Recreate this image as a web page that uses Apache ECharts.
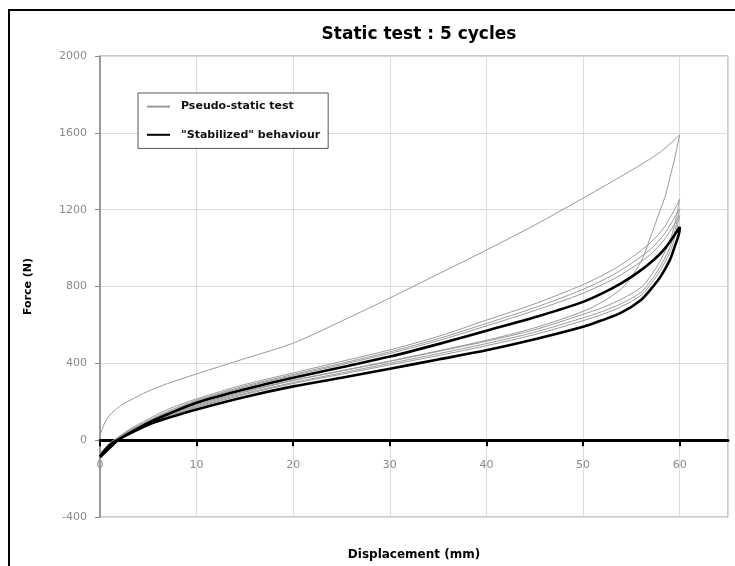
<!DOCTYPE html>
<html>
<head>
<meta charset="utf-8">
<script src="https://cdn.jsdelivr.net/npm/echarts@6/dist/echarts.min.js"></script>
<style>html,body{margin:0;padding:0;background:#fff;}#c{width:735px;height:566px;}</style>
</head>
<body>
<div id="c"></div>
<script>
// ---- data (Displacement mm, Force N) ----
const titleText = 'Static test : 5 cycles';
const seriesNames = ['Pseudo-static test', '"Stabilized" behaviour'];
const xTicks = [0, 10, 20, 30, 40, 50, 60];
const yTicks = [-400, 0, 400, 800, 1200, 1600, 2000];

const cycle1Load = [[0,25],[0.5,90],[1,130],[2,175],[3,205],[5,255],[7,295],[10,345],[15,425],[20,505],[25,620],[30,740],[35,865],[40,990],[45,1120],[50,1260],[55,1405],[58,1500],[60,1590]];
const cycle1Unload = [[60,1590],[59.5,1470],[59,1370],[58.5,1270],[58,1200],[57.5,1130],[57,1060],[56.5,990],[56,930],[55,850],[54,790],[52,720],[50,670],[45,585],[40,520],[35,465],[30,412],[25,362],[20,312],[15,255],[10,185],[7,137],[5,98],[3,48],[2,18],[1,-25],[0,-70]];
const cycle2Load = [[0,-70],[1,-15],[2,20],[3,55],[5,110],[7,160],[10,215],[15,290],[20,350],[25,410],[30,470],[35,540],[40,625],[45,710],[50,810],[53,885],[55,950],[57,1030],[58.5,1115],[60,1255]];
const cycle2Unload = [[60,1255],[59.5,1130],[59,1040],[58,935],[57,855],[56,795],[54,735],[52,690],[50,655],[45,575],[40,515],[35,462],[30,410],[25,360],[20,310],[15,250],[10,180],[7,132],[5,95],[3,45],[2,15],[1,-30],[0,-75]];
const cycle3Load = [[0,-75],[1,-20],[2,15],[3,48],[5,102],[7,150],[10,208],[15,282],[20,342],[25,400],[30,460],[35,528],[40,608],[45,690],[50,785],[53,858],[55,920],[57,995],[58.5,1080],[60,1205]];
const cycle3Unload = [[60,1205],[59.5,1090],[59,1005],[58,905],[57,830],[56,770],[54,712],[52,670],[50,637],[45,562],[40,503],[35,450],[30,400],[25,350],[20,300],[15,243],[10,175],[7,128],[5,90],[3,40],[2,12],[1,-33],[0,-78]];
const cycle4Load = [[0,-78],[1,-22],[2,12],[3,44],[5,98],[7,145],[10,203],[15,276],[20,336],[25,393],[30,452],[35,518],[40,595],[45,675],[50,765],[53,835],[55,895],[57,968],[58.5,1050],[60,1170]];
const cycle4Unload = [[60,1170],[59.5,1060],[59,980],[58,885],[57,812],[56,755],[54,696],[52,655],[50,622],[45,550],[40,492],[35,440],[30,392],[25,343],[20,295],[15,238],[10,170],[7,124],[5,86],[3,37],[2,9],[1,-36],[0,-82]];
const stabLoad = [[0,-85],[1,-25],[2,5],[3,35],[5,90],[7,135],[10,195],[15,265],[20,325],[25,380],[30,435],[35,500],[40,570],[45,640],[50,720],[53,790],[55,850],[57,925],[58.5,1000],[60,1110]];
const stabUnload = [[60,1100],[59.5,1010],[59,940],[58,850],[57,785],[56,730],[54,665],[52,625],[50,590],[45,525],[40,468],[35,420],[30,372],[25,325],[20,280],[15,225],[10,160],[7,115],[5,80],[3,32],[2,5],[1,-40],[0,-90]];

const grayCycles = [
  cycle1Load.concat(cycle1Unload),
  cycle2Load.concat(cycle2Unload),
  cycle3Load.concat(cycle3Unload),
  cycle4Load.concat(cycle4Unload)
];
const stabLoop = stabLoad.concat(stabUnload);

const FONT = '"DejaVu Sans", sans-serif';
const W = 735, H = 566;
const gridBox = {left: 100, right: 7, top: 56, bottom: 49};
const yMin = -400, yMax = 2000;
// move the x axis up so it crosses the y axis at force 0
const plotH = H - gridBox.top - gridBox.bottom;
const xAxisOffset = -plotH * (0 - yMin) / (yMax - yMin);

const chart = echarts.init(document.getElementById('c'), null, {renderer: 'canvas'});

const series = grayCycles.map(d => ({
  name: seriesNames[0], type: 'line', data: d, symbol: 'none', smooth: 0.3,
  lineStyle: {color: '#9a9a9a', width: 1}, itemStyle: {color: '#9a9a9a'}, z: 3, animation: false
}));
series.push({
  name: seriesNames[1], type: 'line', data: stabLoop, symbol: 'none', smooth: 0.3,
  lineStyle: {color: '#000', width: 2.6}, itemStyle: {color: '#000'}, z: 4, animation: false
});

chart.setOption({
  backgroundColor: '#fff',
  animation: false,
  title: {
    text: titleText, left: 414, top: 21, textAlign: 'center',
    textStyle: {fontFamily: FONT, fontSize: 17, fontWeight: 'bold', color: '#000'}
  },
  graphic: [{
    type: 'rect', shape: {x: 9, y: 10, width: 740, height: 570},
    style: {fill: null, stroke: '#000', lineWidth: 2}, silent: true, z: 100
  }],
  legend: {
    orient: 'vertical', left: 138, top: 93,
    padding: [8, 8, 8, 8], itemGap: 17, itemWidth: 23, itemHeight: 14,
    borderColor: '#555', borderWidth: 1, backgroundColor: '#fff',
    data: seriesNames,
    itemStyle: {opacity: 0},
    textStyle: {fontFamily: FONT, fontSize: 11, fontWeight: 'bold', color: '#111', padding: [0, 0, 0, 6]}
  },
  grid: Object.assign({outerBoundsMode: 'none', containLabel: false,
    show: true, borderColor: '#999', borderWidth: 1, backgroundColor: '#fff'}, gridBox),
  xAxis: {
    type: 'value', min: 0, max: 65, interval: 10, position: 'bottom', offset: xAxisOffset,
    name: 'Displacement (mm)', nameLocation: 'middle', nameGap: 109,
    nameTextStyle: {fontFamily: FONT, fontSize: 12, fontWeight: 'bold', color: '#000'},
    axisLine: {onZero: false, lineStyle: {color: '#000', width: 3}},
    axisTick: {show: true, inside: false, length: 6, lineStyle: {color: '#000', width: 2}},
    axisLabel: {showMaxLabel: false, margin: 19, color: '#8a8a8a', fontSize: 11, fontFamily: FONT,
      formatter: v => xTicks.indexOf(v) >= 0 ? String(v) : ''},
    splitLine: {show: true, lineStyle: {color: '#dcdcdc', width: 1}}
  },
  yAxis: {
    type: 'value', min: yMin, max: yMax, interval: 400,
    name: 'Force (N)', nameLocation: 'middle', nameGap: 66,
    nameTextStyle: {fontFamily: FONT, fontSize: 11, fontWeight: 'bold', color: '#000'},
    axisLine: {show: true, onZero: false, lineStyle: {color: '#888', width: 1.5}},
    axisTick: {show: true, inside: false, length: 5, lineStyle: {color: '#888'}},
    axisLabel: {margin: 13, color: '#8a8a8a', fontSize: 11, fontFamily: FONT,
      formatter: v => yTicks.indexOf(v) >= 0 ? String(v) : ''},
    splitLine: {show: true, lineStyle: {color: '#dcdcdc', width: 1}}
  },
  series: series
});
</script>
</body>
</html>
